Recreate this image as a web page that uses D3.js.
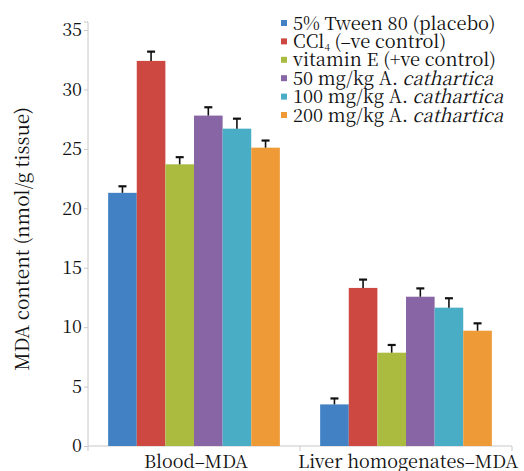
<!DOCTYPE html>
<html>
<head>
<meta charset="utf-8">
<script src="https://cdn.jsdelivr.net/npm/d3@7"></script>
<style>
  html, body { margin: 0; padding: 0; background: #fff; }
  svg { display: block; }
</style>
</head>
<body>
<div id="chart"></div>
<script>
// Data
const groups = ['Blood–MDA', 'Liver homogenates–MDA'];
const seriesNames = ['placebo', 'ccl4', 'vitE', 'ac50', 'ac100', 'ac200'];
const bloodValues = [21.3, 32.4, 23.7, 27.8, 26.7, 25.1];
const bloodErrors = [0.55, 0.78, 0.6, 0.7, 0.84, 0.6];
const liverValues = [3.5, 13.3, 7.85, 12.56, 11.64, 9.7];
const liverErrors = [0.5, 0.7, 0.65, 0.7, 0.79, 0.62];
const yTicks = [0, 5, 10, 15, 20, 25, 30, 35];
const colors = ['#4282c4', '#cc4840', '#aabb40', '#8866a6', '#4aadc6', '#ee9a36'];

const FONT = '"Noto Serif CJK SC", "Liberation Serif", serif';
const width = 524, height = 471;
const margin = { top: 30, right: 12, bottom: 25, left: 88 };

const svg = d3.select('#chart')
    .append('svg')
    .attr('width', width)
    .attr('height', height);

const rows = [];
groups.forEach((g, gi) => {
    const vals = gi === 0 ? bloodValues : liverValues;
    const errs = gi === 0 ? bloodErrors : liverErrors;
    seriesNames.forEach((s, si) => {
        rows.push({ group: g, series: s, value: vals[si], err: errs[si], color: colors[si] });
    });
});

const x0 = d3.scaleBand()
    .domain(groups)
    .range([margin.left, width - margin.right])
    .paddingInner(0.19)
    .paddingOuter(0.095);

const x1 = d3.scaleBand()
    .domain(seriesNames)
    .range([0, x0.bandwidth()]);

const y = d3.scaleLinear()
    .domain([0, 35])
    .range([height - margin.bottom, margin.top]);

const baseY = y(0);

// Y axis
const yAxis = svg.append('g')
    .attr('transform', `translate(${margin.left},0)`)
    .call(d3.axisLeft(y).tickValues(yTicks).tickSize(4).tickSizeOuter(0));
yAxis.select('.domain').remove();
yAxis.selectAll('.tick line').attr('stroke', '#c8c8c8');
yAxis.selectAll('.tick text')
    .style('font-family', FONT)
    .attr('font-size', 18)
    .attr('fill', '#111')
    .attr('x', -6);

svg.append('line')
    .attr('x1', margin.left).attr('x2', margin.left)
    .attr('y1', 22).attr('y2', baseY)
    .attr('stroke', '#c8c8c8');
svg.append('line')
    .attr('x1', margin.left - 4).attr('x2', margin.left)
    .attr('y1', 22).attr('y2', 22)
    .attr('stroke', '#c8c8c8');

// X axis
svg.append('line')
    .attr('x1', margin.left).attr('x2', width - margin.right)
    .attr('y1', baseY).attr('y2', baseY)
    .attr('stroke', '#c8c8c8');
const sepX = [margin.left, x0(groups[1]) - x0.step() * x0.paddingInner() / 2, width - margin.right];
svg.selectAll('.sep')
    .data(sepX)
    .enter()
    .append('line')
    .attr('x1', d => d).attr('x2', d => d)
    .attr('y1', baseY).attr('y2', baseY + 5)
    .attr('stroke', '#c8c8c8');

svg.selectAll('.xlabel')
    .data(groups)
    .enter()
    .append('text')
    .attr('x', d => x0(d) + x0.bandwidth() / 2 + 2)
    .attr('y', 468)
    .attr('text-anchor', 'middle')
    .style('font-family', FONT)
    .attr('font-size', 18)
    .attr('fill', '#111')
    .text(d => d);

// Bars
svg.selectAll('.bar')
    .data(rows)
    .enter()
    .append('rect')
    .attr('x', d => x0(d.group) + x1(d.series))
    .attr('y', d => y(d.value))
    .attr('width', x1.bandwidth())
    .attr('height', d => baseY - y(d.value))
    .attr('fill', d => d.color);

// Error bars (upper only)
const capW = 8;
svg.selectAll('.err')
    .data(rows)
    .enter()
    .append('line')
    .attr('x1', d => x0(d.group) + x1(d.series) + x1.bandwidth() / 2)
    .attr('x2', d => x0(d.group) + x1(d.series) + x1.bandwidth() / 2)
    .attr('y1', d => y(d.value))
    .attr('y2', d => y(d.value + d.err))
    .attr('stroke', '#111')
    .attr('stroke-width', 1.6);
svg.selectAll('.cap')
    .data(rows)
    .enter()
    .append('line')
    .attr('x1', d => x0(d.group) + x1(d.series) + x1.bandwidth() / 2 - capW / 2)
    .attr('x2', d => x0(d.group) + x1(d.series) + x1.bandwidth() / 2 + capW / 2)
    .attr('y1', d => y(d.value + d.err))
    .attr('y2', d => y(d.value + d.err))
    .attr('stroke', '#111')
    .attr('stroke-width', 2.2);

// Y axis title
svg.append('text')
    .attr('transform', 'translate(29,239) rotate(-90)')
    .attr('text-anchor', 'middle')
    .style('font-family', FONT)
    .attr('font-size', 19)
    .attr('fill', '#111')
    .text('MDA content (nmol/g tissue)');

// Legend
const legend = svg.append('g').attr('transform', 'translate(281,23)');
const legendItems = legend.selectAll('g')
    .data(seriesNames)
    .enter()
    .append('g')
    .attr('transform', (d, i) => `translate(0,${i * 18.4})`);

legendItems.append('rect')
    .attr('x', 0).attr('y', -3)
    .attr('width', 6).attr('height', 6)
    .attr('fill', (d, i) => colors[i]);

const legendText = legendItems.append('text')
    .attr('x', 12)
    .attr('y', 6.5)
    .style('font-family', FONT)
    .attr('font-size', 18.3)
    .attr('fill', '#111');

legendText.each(function(d) {
    const t = d3.select(this);
    if (d === 'placebo') {
        t.text('5% Tween 80 (placebo)');
    } else if (d === 'ccl4') {
        t.append('tspan').text('CCl');
        t.append('tspan').attr('font-size', 10).attr('dy', 3).text('4');
        t.append('tspan').attr('dy', -3).text(' (–ve control)');
    } else if (d === 'vitE') {
        t.text('vitamin E (+ve control)');
    } else {
        const dose = d.replace('ac', '');
        t.append('tspan').text(dose + ' mg/kg A. ');
        t.append('tspan').attr('font-style', 'italic').text('cathartica');
    }
});
</script>
</body>
</html>
